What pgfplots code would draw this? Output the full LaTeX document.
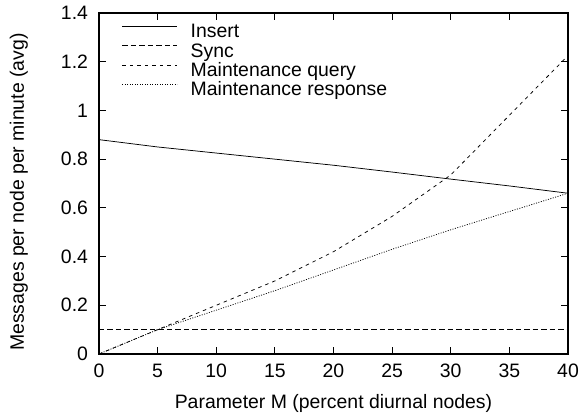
\documentclass[border=0pt]{standalone}
\usepackage{pgfplots}
\pgfplotsset{compat=1.18}
\usepackage{fontspec}
\setmainfont{Liberation Sans}
\begin{document}
\begin{tikzpicture}
\begin{axis}[
  scale only axis,
  width=469bp, height=341bp,
  xmin=0, xmax=40, ymin=0, ymax=1.4,
  xtick={0,5,...,40},
  ytick={0,0.2,...,1.4},
  yticklabels={0,0.2,0.4,0.6,0.8,1,1.2,1.4},
  tick align=inside,
  major tick length=7bp,
  axis line style={line width=1.5bp},
  every tick/.style={black, line width=1bp},
  /pgf/number format/assume math mode=true,
  tick label style={font=\fontsize{19.5}{21}\selectfont},
  yticklabel style={xshift=-7.5bp},
  xticklabel style={yshift=-6.5bp},
  label style={font=\fontsize{19.5}{21}\selectfont},
  xlabel={Parameter M (percent diurnal nodes)},
  xlabel style={at={(axis description cs:0.5,0)}, anchor=base, yshift=-54bp},
  ylabel={Messages per node per minute (avg)},
  ylabel style={at={(axis description cs:-0.16,0.475)}, anchor=base},
  legend cell align=left,
  legend style={at={(axis description cs:0,1)}, anchor=north west,
    xshift=23bp, yshift=-11bp, draw=none, fill=none,
    inner sep=0pt, outer sep=0pt,
    font=\fontsize{19.5}{21}\selectfont, row sep=1.3bp,
    nodes={inner sep=0pt, text height=14bp, text depth=4bp},
    /tikz/every odd column/.style={column sep=13bp}},
  legend image code/.code={\draw[#1] (0bp,6.5bp) -- (55bp,6.5bp);},
]
\addplot[black, no marks, line width=0.75bp] coordinates {(0,0.88) (5,0.85) (10,0.825) (15,0.80) (20,0.775) (25,0.747) (30,0.718) (35,0.69) (40,0.66)};
\addlegendentry{Insert}
\addplot[black, no marks, line width=0.75bp, dash pattern=on 5.5bp off 3bp] coordinates {(0,0.1) (5,0.1) (10,0.1) (15,0.1) (20,0.1) (25,0.1) (30,0.1) (35,0.1) (40,0.1)};
\addlegendentry{Sync}
\addplot[black, no marks, line width=0.75bp, dash pattern=on 3.5bp off 4bp] coordinates {(0,0) (5,0.1) (10,0.2) (15,0.3) (20,0.42) (25,0.565) (30,0.735) (35,0.98) (40,1.225)};
\addlegendentry{Maintenance query}
\addplot[black, no marks, line width=0.75bp, dash pattern=on 1bp off 1.5bp] coordinates {(0,0) (5,0.1) (10,0.18) (15,0.26) (20,0.345) (25,0.43) (30,0.51) (35,0.585) (40,0.66)};
\addlegendentry{Maintenance response}
\end{axis}
\pgfresetboundingbox
\path (current axis.south west) ++(-99bp,-63bp) coordinate (bl);
\path (current axis.north east) ++(17bp,13bp) coordinate (tr);
\useasboundingbox (bl) rectangle (tr);
\end{tikzpicture}
\end{document}
